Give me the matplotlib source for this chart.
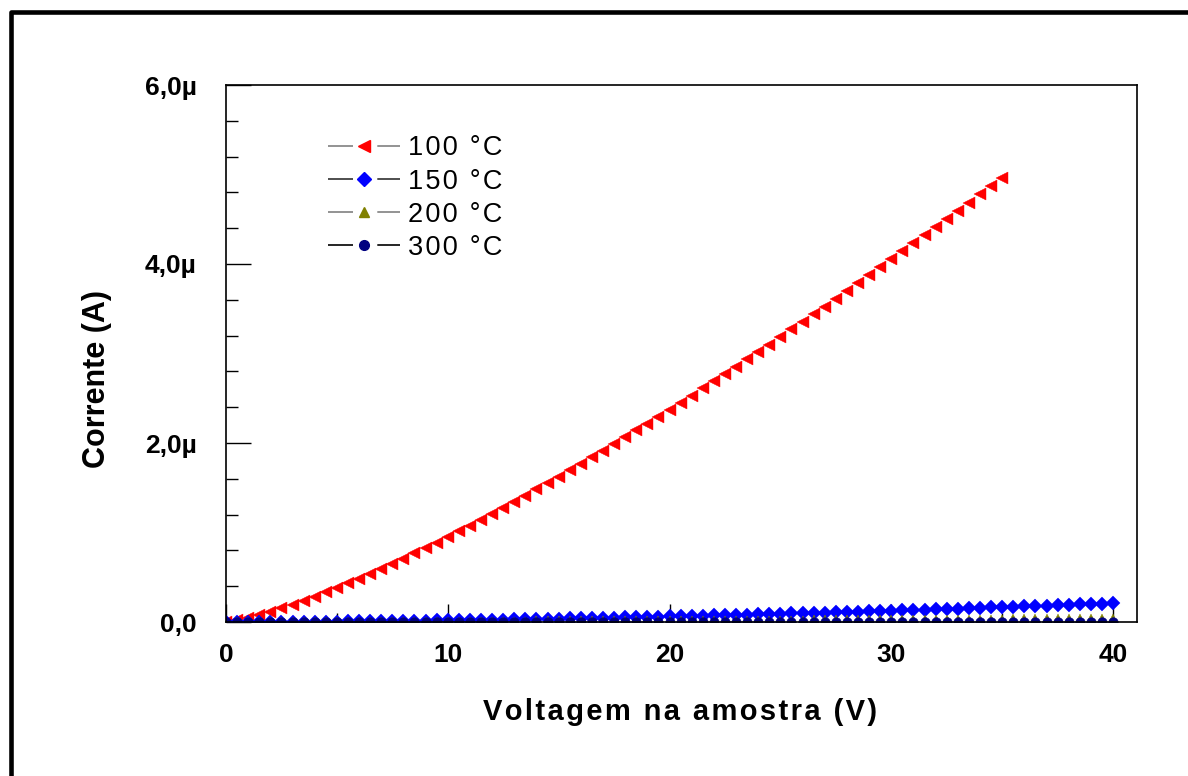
import numpy as np
import matplotlib
matplotlib.use("Agg")
import matplotlib.pyplot as plt
from matplotlib.lines import Line2D
from matplotlib.ticker import MultipleLocator, FuncFormatter

plt.rcParams['font.family'] = ['Liberation Sans', 'DejaVu Sans']
plt.rcParams['lines.scale_dashes'] = False

# ---- dados (tensao em V, corrente em uA) ----
tensao_100 = np.arange(0, 35.01, 0.5)
tensao = np.arange(0, 40.01, 0.5)

corrente_100 = [0, 0.018, 0.046, 0.078, 0.114, 0.152, 0.194, 0.238, 0.283, 0.331,
                0.381, 0.432, 0.484, 0.538, 0.593, 0.650, 0.708, 0.767, 0.827, 0.888,
                0.950, 1.013, 1.077, 1.143, 1.209, 1.275, 1.343, 1.412, 1.481, 1.551,
                1.622, 1.694, 1.767, 1.840, 1.914, 1.989, 2.064, 2.140, 2.216, 2.294,
                2.372, 2.450, 2.530, 2.609, 2.690, 2.771, 2.852, 2.934, 3.017, 3.100,
                3.184, 3.269, 3.354, 3.439, 3.525, 3.611, 3.698, 3.786, 3.873, 3.962,
                4.051, 4.140, 4.230, 4.320, 4.411, 4.502, 4.594, 4.686, 4.778, 4.871,
                4.964]

corrente_150 = [0, 0.0001, 0.0003, 0.0007, 0.0011, 0.0017, 0.0023, 0.0030, 0.0037, 0.0046,
                0.0055, 0.0065, 0.0076, 0.0087, 0.0099, 0.0112, 0.0126, 0.0140, 0.0154, 0.0170,
                0.0186, 0.0202, 0.0219, 0.0237, 0.0255, 0.0274, 0.0294, 0.0314, 0.0334, 0.0355,
                0.0377, 0.0400, 0.0423, 0.0446, 0.0470, 0.0494, 0.0519, 0.0545, 0.0571, 0.0597,
                0.0624, 0.0652, 0.0680, 0.0709, 0.0738, 0.0767, 0.0797, 0.0828, 0.0859, 0.0891,
                0.0923, 0.0955, 0.0988, 0.1022, 0.1056, 0.1090, 0.1125, 0.1160, 0.1196, 0.1232,
                0.1269, 0.1306, 0.1344, 0.1382, 0.1421, 0.1460, 0.1500, 0.1540, 0.1580, 0.1621,
                0.1662, 0.1704, 0.1746, 0.1789, 0.1832, 0.1876, 0.1920, 0.1964, 0.2009, 0.2054,
                0.2100]

corrente_200 = [0, 0, 0.0001, 0.0001, 0.0002, 0.0003, 0.0004, 0.0005, 0.0006, 0.0008,
                0.0009, 0.0011, 0.0013, 0.0015, 0.0017, 0.0019, 0.0021, 0.0023, 0.0026, 0.0028,
                0.0031, 0.0034, 0.0037, 0.0040, 0.0043, 0.0046, 0.0049, 0.0052, 0.0056, 0.0059,
                0.0063, 0.0067, 0.0071, 0.0074, 0.0078, 0.0082, 0.0087, 0.0091, 0.0095, 0.0100,
                0.0104, 0.0109, 0.0113, 0.0118, 0.0123, 0.0128, 0.0133, 0.0138, 0.0143, 0.0149,
                0.0154, 0.0159, 0.0165, 0.0170, 0.0176, 0.0182, 0.0188, 0.0193, 0.0199, 0.0205,
                0.0212, 0.0218, 0.0224, 0.0230, 0.0237, 0.0243, 0.0250, 0.0257, 0.0263, 0.0270,
                0.0277, 0.0284, 0.0291, 0.0298, 0.0305, 0.0313, 0.0320, 0.0327, 0.0335, 0.0342,
                0.0350]

corrente_300 = [0, 0, 0, 0, 0, 0, 0, 0, 0, 0,
                0, 0, 0, 0, 0, 0, 0, 0, 0, 0,
                0.001, 0.001, 0.001, 0.001, 0.001, 0.001, 0.001, 0.001, 0.001, 0.001,
                0.001, 0.001, 0.001, 0.001, 0.001, 0.001, 0.001, 0.001, 0.001, 0.001,
                0.002, 0.002, 0.002, 0.002, 0.002, 0.002, 0.002, 0.002, 0.002, 0.002,
                0.002, 0.002, 0.002, 0.002, 0.002, 0.002, 0.002, 0.002, 0.002, 0.002,
                0.003, 0.003, 0.003, 0.003, 0.003, 0.003, 0.003, 0.003, 0.003, 0.003,
                0.003, 0.003, 0.003, 0.003, 0.003, 0.003, 0.003, 0.003, 0.003, 0.003,
                0.003]

rotulos = ['100 °C', '150 °C', '200 °C', '300 °C']
cores = ['#ff0000', '#0000ff', '#808000', '#000080']
cor_linha = ['#808080', '#303030', '#808080', '#000000']
marcadores = ['<', 'D', '^', 'o']
tamanhos = [9, 6.8, 7.5, 7]


def espacado(s):
    # letras afastadas como no original
    return '\u200a'.join(s)


fig = plt.figure(figsize=(11.88, 7.76), dpi=100)
ax = fig.add_axes([226/1188, 1 - 622/776, 911/1188, 537/776])

series = [(tensao_100, corrente_100), (tensao, corrente_150),
          (tensao, corrente_200), (tensao, corrente_300)]
for i, (x, y) in enumerate(series):
    ax.plot(x, y, linestyle='none', marker=marcadores[i], ms=tamanhos[i],
            mfc=cores[i], mec=cores[i], mew=0.3)

ax.set_xlim(0, 41.08)
ax.set_ylim(0, 6)
ax.xaxis.set_major_locator(MultipleLocator(10))
ax.xaxis.set_minor_locator(MultipleLocator(5))
ax.yaxis.set_major_locator(MultipleLocator(2))
ax.yaxis.set_minor_locator(MultipleLocator(0.4))


def fmt_y(v, pos):
    if abs(v) < 1e-9:
        return '0,0'
    return ('%.1f' % v).replace('.', ',') + 'µ'


ax.yaxis.set_major_formatter(FuncFormatter(fmt_y))

ax.tick_params(axis='y', which='major', direction='in', length=18, width=1, pad=21,
               labelsize=19)
ax.tick_params(axis='y', which='minor', direction='in', length=8.6, width=1)
ax.tick_params(axis='x', which='major', direction='in', length=13, width=1, pad=15,
               labelsize=19)
ax.tick_params(axis='x', which='minor', direction='in', length=6.5, width=1)
for lab in ax.get_xticklabels() + ax.get_yticklabels():
    lab.set_fontweight('bold')
for sp in ax.spines.values():
    sp.set_linewidth(1.2)

# legenda com linha interrompida em volta do marcador
handles = []
for i in range(4):
    handles.append(Line2D([], [], color=cor_linha[i], lw=1.2, dashes=(18, 17.5, 40, 10),
                          marker=marcadores[i], ms=tamanhos[i], mfc=cores[i], mec=cores[i]))
ax.legend(handles, [espacado(r) for r in rotulos], loc='upper left',
          bbox_to_anchor=(0.112, 0.906), frameon=False, fontsize=19.5,
          handlelength=2.66, handletextpad=0.3, labelspacing=0.26,
          borderpad=0, borderaxespad=0, numpoints=1)

fig.text(680/1188, 1 - 712/776, espacado('Voltagem na amostra (V)'), ha='center',
         va='center', fontsize=21, fontweight='bold')
fig.text(97/1188, 1 - 379/776, 'Corrente (A)', ha='center', va='center',
         rotation=90, fontsize=22, fontweight='bold')

# moldura preta (topo e esquerda)
fig.add_artist(Line2D([10.5/1188, 10.5/1188, 1], [0, 1 - 12/776, 1 - 12/776],
                      transform=fig.transFigure, color='black', lw=3.3))

fig.savefig('out.png', dpi=100)
